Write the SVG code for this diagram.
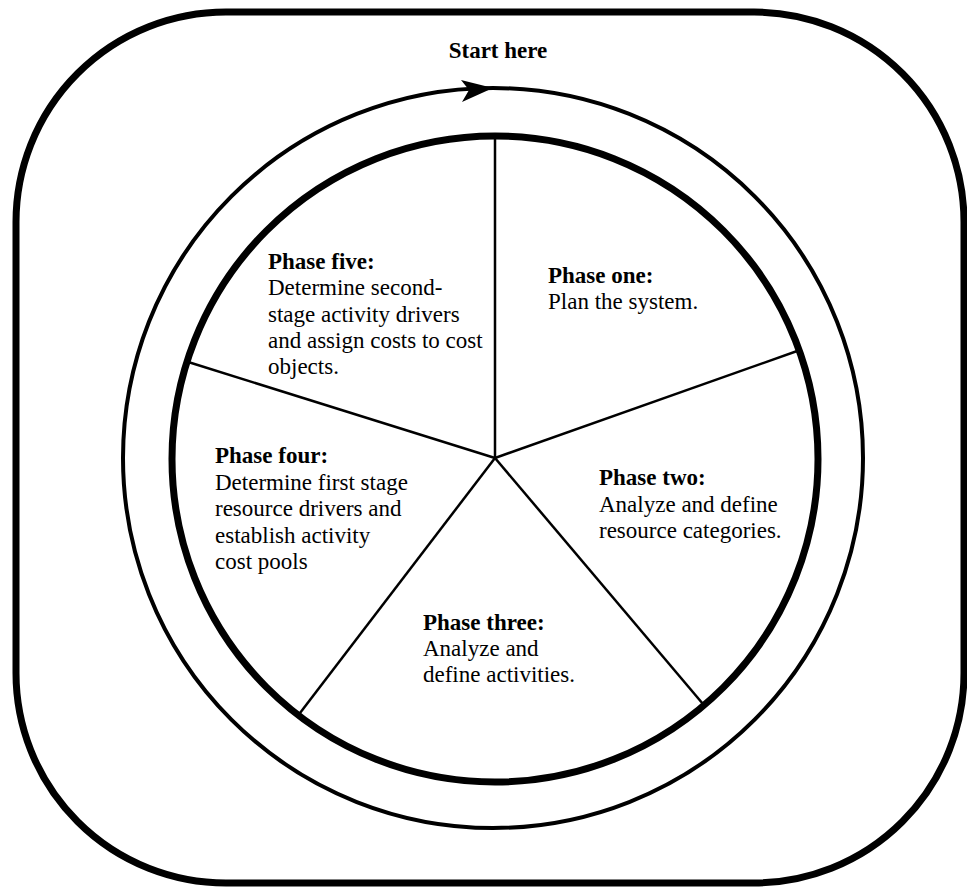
<svg xmlns="http://www.w3.org/2000/svg" width="967" height="892" viewBox="0 0 967 892">
<style>
text{font-family:"Liberation Serif","Times New Roman",serif;font-size:23px;fill:#000}
.b{font-weight:bold}
.spoke{stroke:#000;stroke-width:2.5;fill:none}
</style>
<rect width="967" height="892" fill="#fff"/>
<g id="frame">
<rect x="16" y="12" width="948" height="871" rx="210" ry="210" fill="none" stroke="#000" stroke-width="7"/>
</g>
<g id="cycle">
<circle cx="493" cy="458" r="370" fill="none" stroke="#000" stroke-width="4"/>
<path d="M493,88 L461,80 L469,90 L462,102 Z" fill="#000"/>
<text class="b" x="498" y="58" text-anchor="middle">Start here</text>
</g>
<g id="connectors">
<line class="spoke" x1="495" y1="458" x2="495" y2="137"/>
<line class="spoke" x1="495" y1="458" x2="800" y2="350"/>
<line class="spoke" x1="495" y1="458" x2="703" y2="704"/>
<line class="spoke" x1="495" y1="458" x2="300" y2="713"/>
<line class="spoke" x1="495" y1="458" x2="185" y2="361"/>
</g>
<g id="wheel">
<circle cx="495" cy="459" r="323" fill="none" stroke="#000" stroke-width="7"/>
</g>
<g id="phase-one">
<text x="548" y="283"><tspan class="b">Phase one:</tspan><tspan x="548" y="309">Plan the system.</tspan></text>
</g>
<g id="phase-two">
<text x="599" y="485"><tspan class="b">Phase two:</tspan><tspan x="599" y="512">Analyze and define</tspan><tspan x="599" y="538">resource categories.</tspan></text>
</g>
<g id="phase-three">
<text x="423" y="630"><tspan class="b">Phase three:</tspan><tspan x="423" y="656">Analyze and</tspan><tspan x="423" y="682">define activities.</tspan></text>
</g>
<g id="phase-four">
<text x="215" y="463"><tspan class="b">Phase four:</tspan><tspan x="215" y="489.5">Determine first stage</tspan><tspan x="215" y="516">resource drivers and</tspan><tspan x="215" y="543">establish activity</tspan><tspan x="215" y="569">cost pools</tspan></text>
</g>
<g id="phase-five">
<text x="268" y="269"><tspan class="b">Phase five:</tspan><tspan x="268" y="295">Determine second-</tspan><tspan x="268" y="322">stage activity drivers</tspan><tspan x="268" y="348">and assign costs to cost</tspan><tspan x="268" y="374">objects.</tspan></text>
</g>
</svg>
